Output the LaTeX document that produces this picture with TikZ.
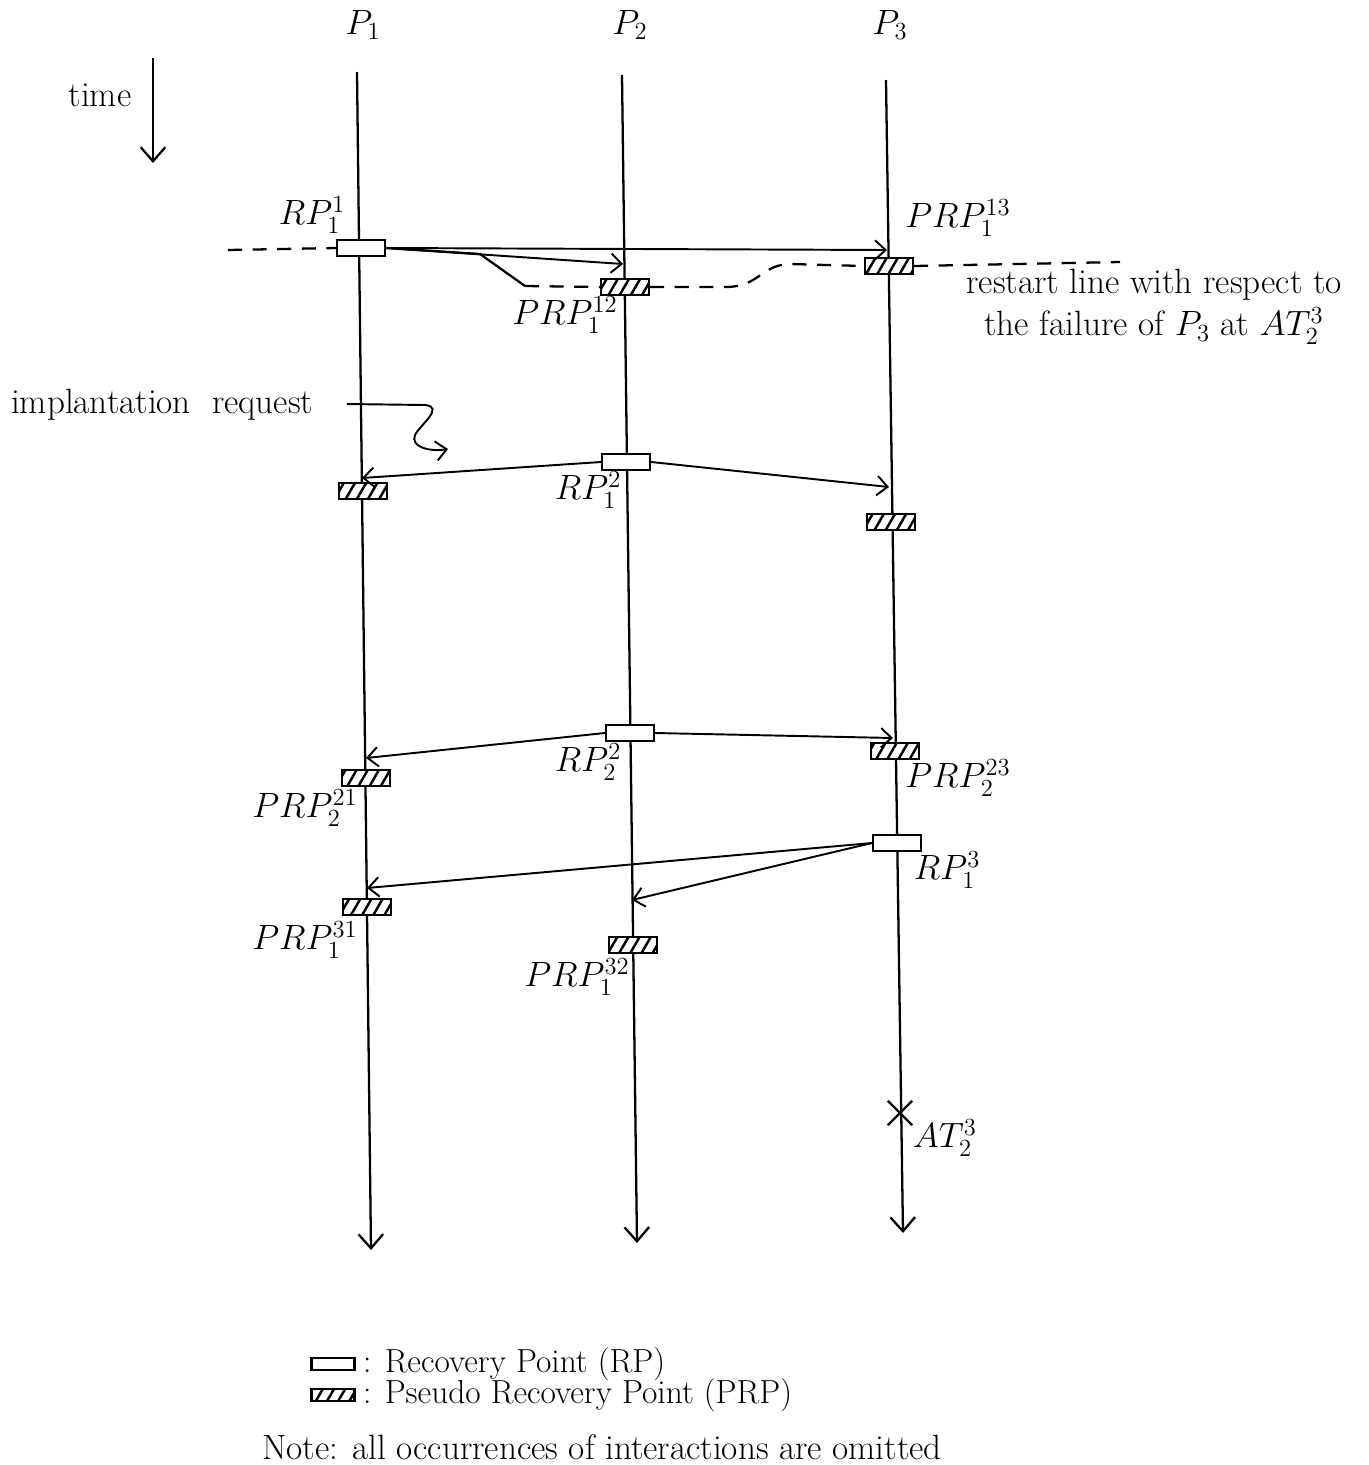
\documentclass[tikz,border=0pt]{standalone}
\usepackage{fix-cm}
\usetikzlibrary{arrows.meta,patterns.meta,shapes.misc}
\tikzset{
rp/.style={draw, line width=1.3pt, fill=white, minimum width=0.96cm, minimum height=0.31cm, inner sep=0pt},
prp/.style={rp, postaction={pattern={Lines[angle=60,distance=5.5pt,line width=1.4pt]}}},
msg/.style={line width=1.1pt, -{Straight Barb[length=6pt,width=11pt]}},
life/.style={line width=1.3pt, -{Straight Barb[length=8pt,width=14pt]}},
restart/.style={line width=1.3pt, dash pattern=on 8pt off 6pt},
keytext/.style={anchor=west, inner sep=0pt, font=\fontsize{19}{21}\selectfont},
}

\begin{document}
\begin{tikzpicture}[x=0.02cm, y=-0.02cm, font=\fontsize{20}{24}\selectfont]
\useasboundingbox (0,0) rectangle (1369,1465);

\node (p1) at (363,25) {$P_1$};
\node (p2) at (630,25) {$P_2$};
\node (p3) at (890,25) {$P_3$};

\node (time) at (100,95) {time};
\coordinate (t0) at (153,58);
\coordinate (t1) at (153,163);
\draw[life] (t0) -- (t1);

\coordinate (p1top) at (357,72);
\coordinate (p1bot) at (371,1250);
\coordinate (p2top) at (622,75);
\coordinate (p2bot) at (637,1243);
\coordinate (p3top) at (886,80);
\coordinate (p3bot) at (903,1233);
\draw[life] (p1top) -- (p1bot);
\draw[life] (p2top) -- (p2bot);
\draw[life] (p3top) -- (p3bot);

\coordinate (rs0) at (228,250);
\coordinate (rs1) at (480,254);
\coordinate (rs2) at (525,286);
\coordinate (rs3) at (725,287);
\coordinate (rs4) at (790,264);
\coordinate (rs5) at (1120,262);

\node[rp] (rp11) at (361,248) {};
\node[prp] (prp112) at (625,287) {};
\node[prp] (prp113) at (889,266) {};
\node[rp] (rp12) at (626,462) {};
\node[prp] (prp121) at (363,491) {};
\node[prp] (prp123) at (891,522) {};
\node[rp] (rp22) at (630,733) {};
\node[prp] (prp221) at (366,778) {};
\node[prp] (prp223) at (895,751) {};
\node[rp] (rp13) at (897,843) {};
\node[prp] (prp131) at (367,907) {};
\node[prp] (prp132) at (633,945) {};
\node[cross out, draw, line width=1.3pt, minimum size=0.44cm, inner sep=0pt] (fail) at (900,1113) {};

\draw[restart] (rs0) -- (rp11.west);
\draw[line width=1.3pt] (rp11.east) -- (rs1) -- (rs2);
\draw[restart] (rs2) -- (prp112.west);
\draw[restart] (prp112.east) -- (rs3) .. controls (760,287) and (760,265) .. (rs4) -- (prp113.west);
\draw[restart] (prp113.east) -- (rs5);

\coordinate (m12) at (623,264);
\coordinate (m13) at (887,250);
\coordinate (m21) at (362,478);
\coordinate (m23) at (889,487);
\coordinate (m221) at (366,758);
\coordinate (m223) at (893,738);
\coordinate (m31) at (367,888);
\coordinate (m32) at (632,900);
\draw[msg] (rp11.east) -- (m12);
\draw[msg] (rp11.east) -- (m13);
\draw[msg] (rp12.west) -- (m21);
\draw[msg] (rp12.east) -- (m23);
\draw[msg] (rp22.west) -- (m221);
\draw[msg] (rp22.east) -- (m223);
\draw[msg] (rp13.west) -- (m31);
\draw[msg] (rp13.west) -- (m32);

\node (lrp11) at (312,215) {$RP_1^1$};
\node (lprp112) at (565,315) {$PRP_1^{12}$};
\node (lprp113) at (958,218) {$PRP_1^{13}$};
\node (lrp12) at (588,490) {$RP_1^2$};
\node (lrp22) at (588,762) {$RP_2^2$};
\node (lprp221) at (305,808) {$PRP_2^{21}$};
\node (lprp223) at (958,778) {$PRP_2^{23}$};
\node (lrp13) at (947,870) {$RP_1^3$};
\node (lprp131) at (305,940) {$PRP_1^{31}$};
\node (lprp132) at (577,977) {$PRP_1^{32}$};
\node (lfail) at (945,1138) {$AT_2^3$};

\node[align=center] (restart) at (1154,307) {restart line with respect to\\the failure of $P_3$ at $AT_2^3$};

\node[anchor=west] (impl) at (5,405) {implantation\ \ request};
\coordinate (i0) at (347,404);
\coordinate (i1) at (425,405);
\coordinate (i2) at (415,435);
\coordinate (i3) at (448,449);
\draw[msg] (i0) -- (i1) .. controls (445,407) and (420,425) .. (i2) .. controls (410,447) and (430,452) .. (i3);

\node[rp, minimum width=0.86cm, minimum height=0.25cm] (keyrp) at (333,1364) {};
\node[prp, minimum width=0.86cm, minimum height=0.25cm] (keyprp) at (333,1395) {};
\node[keytext] (lkeyrp) at ([xshift=4pt]keyrp.east) {: Recovery Point (RP)};
\node[keytext] (lkeyprp) at ([xshift=4pt]keyprp.east) {: Pseudo Recovery Point (PRP)};
\node (note) at (602,1447) {Note: all occurrences of interactions are omitted};
\end{tikzpicture}
\end{document}
